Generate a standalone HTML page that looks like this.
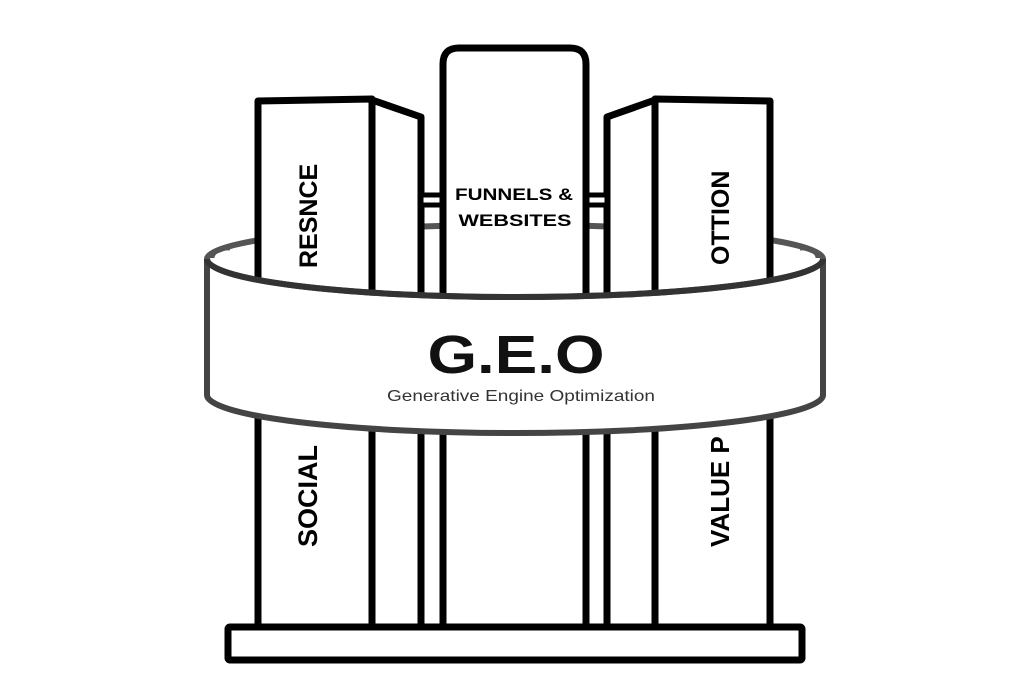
<!DOCTYPE html>
<html><head><meta charset="utf-8"><style>
html,body{margin:0;padding:0;background:#fff;width:1024px;height:684px;overflow:hidden}
svg{display:block}
</style></head><body>
<svg width="1024" height="684" viewBox="0 0 1024 684" xmlns="http://www.w3.org/2000/svg" font-family="Liberation Sans, DejaVu Sans, sans-serif">
<rect width="1024" height="684" fill="#fff"/>
<!-- back rim of ring -->
<path d="M207,259 A308,34 0 0,1 823,259" fill="none" stroke="#555" stroke-width="6"/>
<g stroke="#000" stroke-width="7" fill="#fff" stroke-linejoin="round">
  <!-- left book -->
  <path d="M372,100 L421,117 L421,628 L372,628 Z"/>
  <path d="M258,101 L372,99 L372,628 L258,628 Z"/>
  <!-- right book -->
  <path d="M655,100 L607,117 L607,628 L655,628 Z"/>
  <path d="M655,99 L770,101 L770,628 L655,628 Z"/>
  <!-- bridges -->
  <rect x="421" y="195" width="22" height="10" fill="#fff" stroke-width="5"/>
  <rect x="586" y="195" width="21" height="10" fill="#fff" stroke-width="5"/>
  <!-- middle book -->
  <path d="M443,628 L443,64 Q443,48 459,48 L570,48 Q586,48 586,64 L586,628 Z"/>
  <!-- base -->
  <rect x="228" y="627" width="574" height="33" rx="2"/>
</g>
<text x="514" y="200" text-anchor="middle" font-size="17" font-weight="bold" textLength="118" lengthAdjust="spacingAndGlyphs">FUNNELS &amp;</text>
<text x="515" y="226" text-anchor="middle" font-size="17" font-weight="bold" textLength="113" lengthAdjust="spacingAndGlyphs">WEBSITES</text>
<text transform="translate(317,268) rotate(-90)" font-size="25" font-weight="bold">RESNCE</text>
<text transform="translate(317,547) rotate(-90)" font-size="27" font-weight="bold">SOCIAL</text>
<text transform="translate(729,265) rotate(-90)" font-size="25" font-weight="bold">OTTION</text>
<text transform="translate(729,547) rotate(-90)" font-size="26" font-weight="bold">VALUE P</text>
<!-- front band -->
<path d="M207,259 A308,38 0 0,0 823,259 L823,395 A308,38 0 0,1 207,395 Z" fill="#fff" stroke="#444" stroke-width="6"/>
<path d="M207,259 A308,38 0 0,0 823,259" fill="none" stroke="#333" stroke-width="6"/>
<path d="M212,258 A16,10 0 0,1 230,248" fill="none" stroke="#555" stroke-width="5"/>
<path d="M818,258 A16,10 0 0,0 800,248" fill="none" stroke="#555" stroke-width="5"/>
<text x="516" y="373" text-anchor="middle" font-size="54" font-weight="bold" fill="#111" textLength="177" lengthAdjust="spacingAndGlyphs">G.E.O</text>
<text x="521" y="401" text-anchor="middle" font-size="16" fill="#333" textLength="268" lengthAdjust="spacingAndGlyphs">Generative Engine Optimization</text>
</svg>
</body></html>
